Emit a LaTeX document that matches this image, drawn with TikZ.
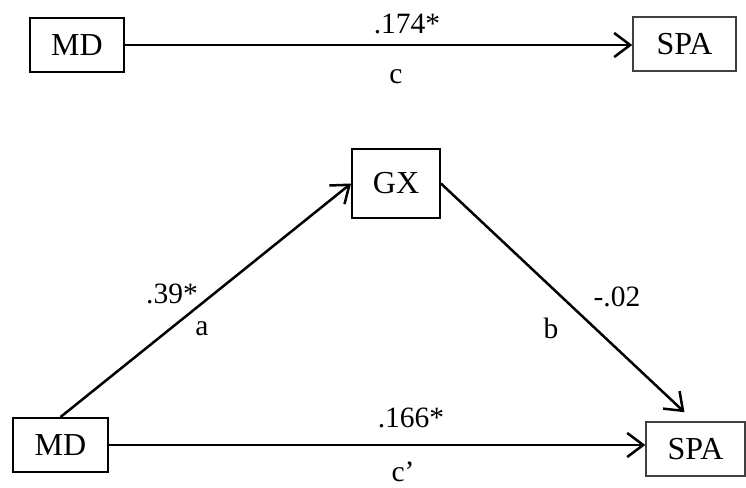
\documentclass[tikz,border=0pt]{standalone}
\usepackage{fontspec}
\setmainfont{Liberation Serif}
\usetikzlibrary{calc,arrows.meta}

\begin{document}
\begin{tikzpicture}[x=1pt, y=1pt,
  varbox/.style={draw, line width=1.9pt, inner sep=0pt, font=\fontsize{32}{36}\selectfont},
  path/.style={line width=2.5pt, -{Straight Barb[length=16pt, width=24pt, line width=2.5pt]}},
  coef/.style={inner sep=0pt, font=\fontsize{29.5}{34}\selectfont}]

\useasboundingbox (0,0) rectangle (746,487);

\node[varbox, minimum width=94pt, minimum height=54pt] (md1) at (77,442) {MD};
\node[varbox, draw=black!75, line width=1.5pt, minimum width=103pt, minimum height=54pt] (spa1) at (684.5,443) {SPA};
\draw[path] (md1.east) -- (md1.east -| spa1.west);
\node[coef] (c1) at (407,463) {.174*};
\node[coef] (c1n) at (396,410) {c};

\node[varbox, minimum width=88pt, minimum height=69pt] (gx) at (396,303.5) {GX};
\node[varbox, minimum width=95pt, minimum height=54pt] (md2) at (60.5,42) {MD};
\node[varbox, draw=black!75, line width=1.5pt, minimum width=99pt, minimum height=54pt] (spa2) at (695.5,38) {SPA};

\draw[path] (md2.north) -- (gx.west);
\draw[path] (gx.east) -- ([xshift=-11pt, yshift=9pt]spa2.north);
\draw[path] (md2.east) -- (md2.east -| spa2.west);

\node[coef] (a) at (172,193) {.39*};
\node[coef] (an) at (202,158) {a};
\node[coef] (b) at (617,190) {-.02};
\node[coef] (bn) at (551,159) {b};
\node[coef] (c2) at (411,69) {.166*};
\node[coef] (c2n) at (403,15) {c’};

\end{tikzpicture}
\end{document}
